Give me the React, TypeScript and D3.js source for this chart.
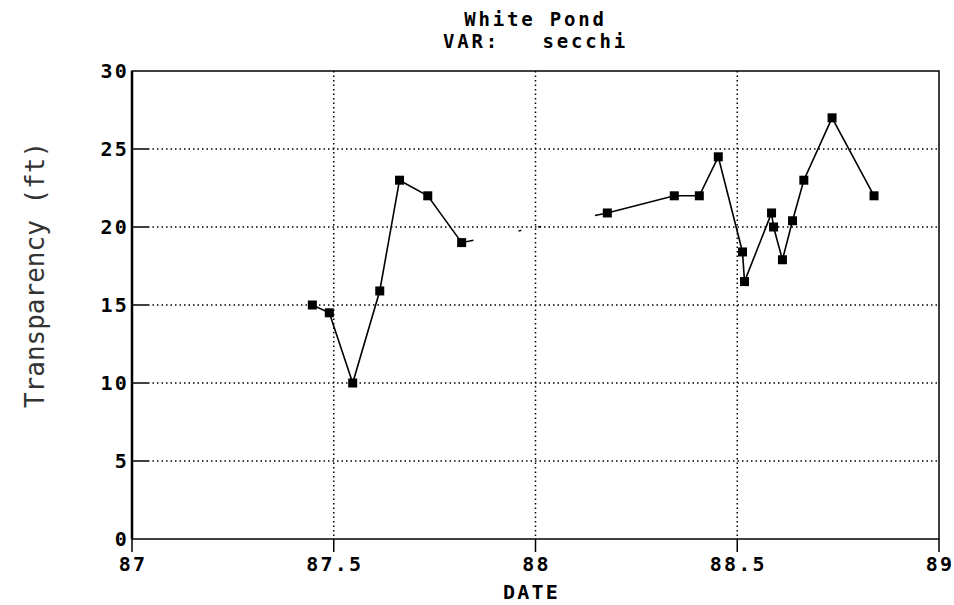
import * as d3 from "d3";

// first sampling season (1987)
const season1Dates = [87.447, 87.489, 87.547, 87.614, 87.663, 87.733, 87.817];
const season1Secchi = [15, 14.5, 10, 15.9, 23, 22, 19];

// second sampling season (1988)
const season2Dates = [
  88.178, 88.344, 88.406, 88.453, 88.513, 88.518, 88.585, 88.59, 88.612,
  88.637, 88.665, 88.735, 88.839,
];
const season2Secchi = [
  20.9, 22, 22, 24.5, 18.4, 16.5, 20.9, 20, 17.9, 20.4, 23, 27, 22,
];

const xTicks = [87, 87.5, 88, 88.5, 89];
const xTickLabels = ["87", "87.5", "88", "88.5", "89"];
const yTicks = [0, 5, 10, 15, 20, 25, 30];

const titleLines = ["White Pond", "VAR:   secchi"];
const xLabel = "DATE";
const yLabel = "Transparency (ft)";

const W = 954;
const H = 605;
const margin = { top: 71, right: 15, bottom: 66, left: 132 };

const bitmapFont = "'DejaVu Sans Mono', monospace";

export default function App() {
  const x = d3
    .scaleLinear()
    .domain([87, 89])
    .range([margin.left, W - margin.right]);
  const y = d3
    .scaleLinear()
    .domain([0, 30])
    .range([H - margin.bottom, margin.top]);

  const [x0, x1] = x.range();
  const [y0, y1] = y.range();

  const line = d3
    .line<[number, number]>()
    .x((d) => x(d[0]))
    .y((d) => y(d[1]));

  const s1 = season1Dates.map((d, i) => [d, season1Secchi[i]] as [number, number]);
  const s2 = season2Dates.map((d, i) => [d, season2Secchi[i]] as [number, number]);
  // the scan loses most of the stroke between the two seasons
  const bridge: [number, number][] = [s1[s1.length - 1], s2[0]];
  const all = s1.concat(s2);

  const mid = (x0 + x1) / 2;

  return (
    <svg
      width={W}
      height={H}
      style={{ position: "absolute", left: 0, top: 0, background: "#fff" }}
    >
      {/* title */}
      {titleLines.map((t, i) => (
        <text
          key={t}
          x={mid}
          y={26 + i * 22}
          textAnchor="middle"
          fontFamily={bitmapFont}
          fontWeight="bold"
          fontSize={19}
          letterSpacing={2.8}
          style={{ whiteSpace: "pre" }}
        >
          {t}
        </text>
      ))}

      {/* grid */}
      {yTicks
        .filter((t) => t > 0 && t < 30)
        .map((t) => (
          <g key={"gy" + t}>
            <line x1={x0} x2={x0 + 16} y1={y(t)} y2={y(t)} stroke="#000" strokeWidth={1.5} />
            <line
              x1={x0 + 16}
              x2={x1}
              y1={y(t)}
              y2={y(t)}
              stroke="#000"
              strokeWidth={1.5}
              strokeDasharray="1.5,3"
            />
          </g>
        ))}
      {xTicks
        .filter((t) => t > 87 && t < 89)
        .map((t) => (
          <line
            key={"gx" + t}
            x1={x(t)}
            x2={x(t)}
            y1={y1}
            y2={y0}
            stroke="#000"
            strokeWidth={1.5}
            strokeDasharray="1.5,3"
          />
        ))}

      {/* frame */}
      <rect
        x={x0}
        y={y1}
        width={x1 - x0}
        height={y0 - y1}
        fill="none"
        stroke="#000"
        strokeWidth={1.5}
      />
      <line x1={x0} x2={x0} y1={y1} y2={y0} stroke="#000" strokeWidth={2.5} />

      {/* x ticks */}
      {xTicks.map((t, i) => (
        <g key={"tx" + t}>
          <line x1={x(t)} x2={x(t)} y1={y0} y2={y0 + 13} stroke="#000" strokeWidth={1.5} />
          <text
            x={x(t) + 1}
            y={y0 + 32}
            textAnchor="middle"
            fontFamily={bitmapFont}
            fontWeight="bold"
            fontSize={20}
            letterSpacing={2.2}
          >
            {xTickLabels[i]}
          </text>
        </g>
      ))}

      {/* y ticks */}
      {yTicks.map((t) => (
        <text
          key={"ty" + t}
          x={x0 - 3}
          y={y(t) + 7}
          textAnchor="end"
          fontFamily={bitmapFont}
          fontWeight="bold"
          fontSize={20}
          letterSpacing={2.2}
        >
          {t}
        </text>
      ))}

      {/* axis labels */}
      <text
        x={mid - 4}
        y={599}
        textAnchor="middle"
        fontFamily={bitmapFont}
        fontWeight="bold"
        fontSize={20}
        letterSpacing={2.2}
      >
        {xLabel}
      </text>
      <text
        transform={`translate(44, ${(y0 + y1) / 2 - 30}) rotate(-90)`}
        textAnchor="middle"
        fontFamily={bitmapFont}
        fontSize={26}
        fill="#333"
      >
        {yLabel}
      </text>

      {/* data */}
      <path d={line(s1) ?? ""} fill="none" stroke="#000" strokeWidth={1.6} />
      <path d={line(s2) ?? ""} fill="none" stroke="#000" strokeWidth={1.6} />
      <path
        d={line(bridge) ?? ""}
        fill="none"
        stroke="#000"
        strokeWidth={1.4}
        strokeDasharray="12,46,3,17,3,55,14"
      />
      {all.map((d, i) => (
        <rect
          key={"p" + i}
          x={x(d[0]) - 4.5}
          y={y(d[1]) - 4.5}
          width={9}
          height={9}
          fill="#000"
        />
      ))}
    </svg>
  );
}
